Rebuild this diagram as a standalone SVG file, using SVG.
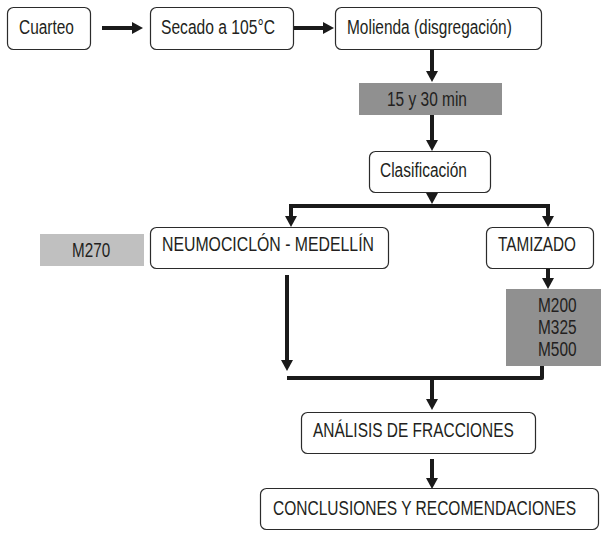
<svg xmlns="http://www.w3.org/2000/svg" width="601" height="533" viewBox="0 0 601 533">
<style>
.box{fill:#fff;stroke:#2b2b2b;stroke-width:1.2}
.t{font-family:"Liberation Sans",Arial,sans-serif;font-size:19.5px;fill:#231f20}
.c{fill:none;stroke:#1a1a1a;stroke-width:4}
</style>
<defs>
<marker id="ah" markerUnits="userSpaceOnUse" markerWidth="12" markerHeight="12" refX="1" refY="6" orient="auto">
<path d="M0,0 L11,6 L0,12 z" fill="#1a1a1a"/>
</marker>
</defs>
<rect width="601" height="533" fill="#fff"/>
<g id="connectors">
<line class="c" x1="102" y1="28" x2="133" y2="28" marker-end="url(#ah)"/>
<line class="c" x1="293" y1="28" x2="324" y2="28" marker-end="url(#ah)"/>
<line class="c" x1="432" y1="50" x2="432" y2="72" marker-end="url(#ah)"/>
<line class="c" x1="432" y1="115" x2="432" y2="141" marker-end="url(#ah)"/>
<polygon points="426,193 438,193 432,204" fill="#1a1a1a"/>
<path class="c" d="M289,206 H548 V217" stroke-width="4.5" marker-end="url(#ah)"/>
<line class="c" x1="291" y1="206" x2="291" y2="217" marker-end="url(#ah)"/>
<line class="c" x1="548" y1="268" x2="548" y2="279" marker-end="url(#ah)"/>
<line class="c" x1="287" y1="275" x2="287" y2="361" marker-end="url(#ah)"/>
<path class="c" d="M287,378 H542 V366" stroke-linejoin="round"/>
<line class="c" x1="432" y1="378" x2="432" y2="400" marker-end="url(#ah)"/>
<line class="c" x1="432" y1="459" x2="432" y2="479" marker-end="url(#ah)"/>
</g>
<g id="cuarteo">
<rect class="box" x="7.5" y="7.5" width="83" height="42" rx="6"/>
<text class="t" transform="translate(19,34) scale(0.82,1)" textLength="67" lengthAdjust="spacingAndGlyphs">Cuarteo</text>
</g>
<g id="secado">
<rect class="box" x="150.5" y="7.5" width="143" height="42" rx="6"/>
<text class="t" transform="translate(161,34) scale(0.82,1)" textLength="139" lengthAdjust="spacingAndGlyphs">Secado a 105°C</text>
</g>
<g id="molienda">
<rect class="box" x="335.5" y="7.5" width="206" height="42" rx="6"/>
<text class="t" transform="translate(347,34) scale(0.82,1)" textLength="201" lengthAdjust="spacingAndGlyphs">Molienda (disgregación)</text>
</g>
<g id="tiempo">
<rect x="359" y="83" width="143" height="32" fill="#909090"/>
<text class="t" transform="translate(387,106) scale(0.82,1)" textLength="97.5" lengthAdjust="spacingAndGlyphs">15 y 30 min</text>
</g>
<g id="clasificacion">
<rect class="box" x="369.5" y="151.5" width="121" height="41" rx="6"/>
<text class="t" transform="translate(380,177) scale(0.82,1)" textLength="106" lengthAdjust="spacingAndGlyphs">Clasificación</text>
</g>
<g id="m270">
<rect x="40" y="234" width="104" height="32" fill="#c0c0c0"/>
<text class="t" transform="translate(72,257) scale(0.82,1)" textLength="46.5" lengthAdjust="spacingAndGlyphs">M270</text>
</g>
<g id="neumociclon">
<rect class="box" x="150.5" y="227.5" width="238" height="41" rx="6"/>
<text class="t" transform="translate(162,251) scale(0.82,1)" textLength="258.5" lengthAdjust="spacingAndGlyphs">NEUMOCICLÓN - MEDELLÍN</text>
</g>
<g id="tamizado">
<rect class="box" x="486.5" y="227.5" width="107" height="41" rx="6"/>
<text class="t" transform="translate(498,251) scale(0.82,1)" textLength="95" lengthAdjust="spacingAndGlyphs">TAMIZADO</text>
</g>
<g id="mallas">
<rect x="506" y="289" width="95" height="77" fill="#909090"/>
<text class="t" transform="translate(538,312) scale(0.82,1)" textLength="47" lengthAdjust="spacingAndGlyphs">M200</text>
<text class="t" transform="translate(538,334) scale(0.82,1)" textLength="47" lengthAdjust="spacingAndGlyphs">M325</text>
<text class="t" transform="translate(538,356) scale(0.82,1)" textLength="47" lengthAdjust="spacingAndGlyphs">M500</text>
</g>
<g id="analisis">
<rect class="box" x="301.5" y="412.5" width="234" height="41" rx="6"/>
<text class="t" transform="translate(313,437) scale(0.82,1)" textLength="245" lengthAdjust="spacingAndGlyphs">ANÁLISIS DE FRACCIONES</text>
</g>
<g id="conclusiones">
<rect class="box" x="260.5" y="488.5" width="338" height="41" rx="6"/>
<text class="t" transform="translate(273,515) scale(0.82,1)" textLength="369.5" lengthAdjust="spacingAndGlyphs">CONCLUSIONES Y RECOMENDACIONES</text>
</g>
</svg>
